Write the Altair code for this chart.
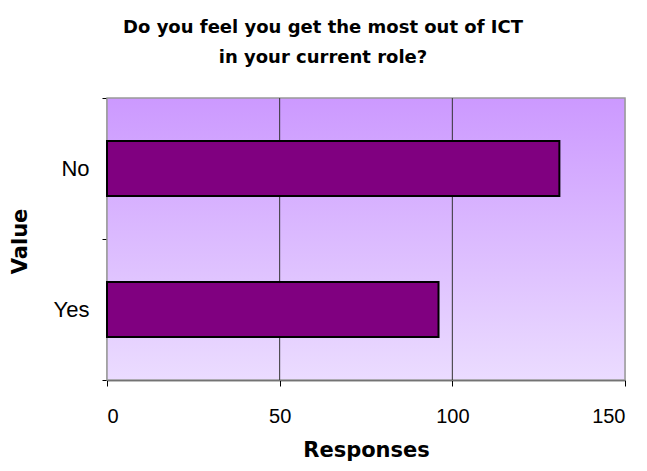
import altair as alt
import pandas as pd

categories = ["No", "Yes"]
responses = [131, 96]
x_ticks = [0, 50, 100, 150]
grid_values = [50, 100]

df = pd.DataFrame({"Value": categories, "Responses": responses})
grid_df = pd.DataFrame({"g": grid_values})
bg_df = pd.DataFrame({"a": [0]})

W, H = 518, 282

xscale = alt.Scale(domain=[0, 150], nice=False, zero=True)
xaxis = alt.Axis(values=x_ticks, grid=False, title="Responses",
                 labelFont="Liberation Sans", labelFontSize=20, labelColor="#000",
                 tickColor="#000", tickSize=6, labelPadding=20,
                 domainColor="#000", domainWidth=1.5,
                 titleFont="DejaVu Sans", titleFontSize=21, titleFontWeight="bold",
                 titleColor="#000", titleY=70, titleBaseline="middle")

bg = alt.Chart(bg_df).mark_rect(
    fill=alt.Gradient(
        gradient="linear",
        stops=[alt.GradientStop(color="#CC99FF", offset=0),
               alt.GradientStop(color="#EBDCFF", offset=1)],
        x1=0, x2=0, y1=0, y2=1),
    stroke="#999999", strokeWidth=1.5,
).encode(x=alt.value(0), x2=alt.value(W), y=alt.value(0), y2=alt.value(H))

grid = alt.Chart(grid_df).mark_rule(color="#333333", strokeWidth=1).encode(
    x=alt.X("g:Q", scale=xscale, axis=xaxis)
)

bars = alt.Chart(df).mark_bar(
    color="#800080", stroke="#000000", strokeWidth=2,
    height=alt.RelativeBandSize(band=0.39),
).encode(
    x=alt.X("Responses:Q", scale=xscale, axis=xaxis),
    y=alt.Y("Value:N", sort=categories,
            scale=alt.Scale(paddingInner=0, paddingOuter=0),
            axis=alt.Axis(title="Value", tickBand="extent", grid=False,
                          labelFont="Liberation Sans", labelFontSize=22, labelColor="#000",
                          tickColor="#000", tickSize=5, labelPadding=13,
                          domainColor="#000", domainWidth=1.5,
                          titleFont="DejaVu Sans", titleFontSize=21, titleFontWeight="bold",
                          titleColor="#000", titleX=-87, titleY=143, titleAngle=270,
                          titleAlign="center", titleBaseline="middle")),
)

chart = alt.layer(bg, grid, bars).properties(
    width=W, height=H,
    title=alt.TitleParams(
        ["Do you feel you get the most out of ICT", "in your current role?"],
        font="DejaVu Sans", fontSize=18, fontWeight="bold", color="#000",
        anchor="middle", dx=-43, offset=20, lineHeight=30),
    autosize="none",
    padding={"left": 107, "top": 98, "right": 22, "bottom": 91},
).configure_view(stroke=None).configure(background="white")

chart.save("out.html", embed_options={"renderer": "svg", "actions": False})
